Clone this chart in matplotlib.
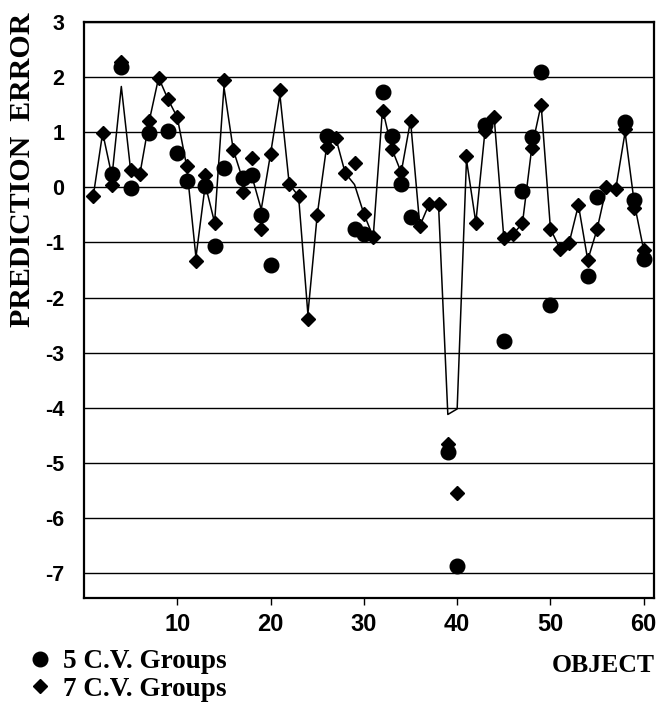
import numpy as np
import matplotlib
matplotlib.use("Agg")
import matplotlib.pyplot as plt
from matplotlib.lines import Line2D

plt.rcParams["axes.unicode_minus"] = False

# prediction error per object
objects = np.arange(1, 61)

# leave-one-out errors (plain line)
err_loo = [-0.15, 0.99, 0.20, 1.83, 0.31, 0.25, 1.21, 1.99, 1.60, 1.27,
           0.39, -1.27, 0.05, -0.64, 1.82, 0.68, 0.15, 0.20, -0.40, 0.61,
           1.68, 0.06, -0.16, -2.30, -0.50, 0.73, 0.89, 0.26, 0.05, -0.48,
           -0.90, 1.42, 0.70, 0.27, 1.21, -0.70, -0.30, -0.31, -4.12, -4.02,
           0.50, -0.64, 1.05, 1.20, -0.91, -0.85, -0.65, 0.72, 1.50, -0.75,
           -1.11, -1.01, -0.32, -1.32, -0.76, 0.00, -0.03, 1.00, -0.30, -1.14]

# 5 cross-validation groups (circles), nan where not reported
nan = np.nan
err_cv5 = [nan, nan, 0.25, 2.19, -0.01, nan, 0.99, nan, 1.02, 0.63,
           0.11, nan, 0.02, -1.06, 0.35, nan, 0.17, 0.22, -0.50, -1.40,
           nan, nan, nan, nan, nan, 0.94, nan, nan, -0.76, -0.84,
           nan, 1.73, 0.94, 0.06, -0.53, nan, nan, nan, -4.81, -6.87,
           nan, nan, 1.13, nan, -2.79, nan, -0.06, 0.91, 2.10, -2.13,
           nan, nan, nan, -1.60, -0.18, nan, nan, 1.18, -0.23, -1.30]

# 7 cross-validation groups (diamonds)
err_cv7 = [-0.15, 0.99, 0.05, 2.28, 0.31, 0.25, 1.21, 1.99, 1.60, 1.27,
           0.39, -1.33, 0.22, -0.64, 1.95, 0.68, -0.08, 0.53, -0.75, 0.61,
           1.77, 0.06, -0.16, -2.39, -0.50, 0.73, 0.89, 0.26, 0.45, -0.48,
           -0.90, 1.38, 0.70, 0.27, 1.21, -0.70, -0.30, -0.31, -4.66, -5.54,
           0.56, -0.64, 1.03, 1.27, -0.91, -0.85, -0.65, 0.72, 1.50, -0.75,
           -1.11, -1.01, -0.32, -1.32, -0.76, 0.00, -0.03, 1.06, -0.38, -1.14]

x_ticks = [10, 20, 30, 40, 50, 60]
y_ticks = list(range(-7, 4))

W, H = 659, 705
fig = plt.figure(figsize=(W / 100, H / 100), dpi=100)
ax = fig.add_axes([84 / W, 1 - 598 / H, 570 / W, 576 / H])

ax.plot(objects, err_loo, color="black", lw=1.1, zorder=3)
ax.plot(objects, err_cv7, ls="none", marker="D", ms=7.3, color="black", zorder=4)
ax.plot(objects, err_cv5, ls="none", marker="o", ms=10.5, color="black", zorder=5)

ax.set_xlim(0, 61.1)
ax.set_ylim(-7.45, 3)
ax.set_xticks(x_ticks)
ax.set_yticks(y_ticks)
ax.grid(axis="y", color="black", lw=1.0)
ax.set_axisbelow(True)
for s in ax.spines.values():
    s.set_linewidth(1.6)

ax.tick_params(axis="x", direction="out", length=5, width=1, pad=6, labelsize=17)
ax.tick_params(axis="y", length=0, pad=14, labelsize=15.5)
for lab in ax.get_xticklabels() + ax.get_yticklabels():
    lab.set_fontfamily("Liberation Sans")
    lab.set_fontweight("bold")

serif = dict(family="Liberation Serif", weight="bold")
fig.text(23 / W, 1 - 170 / H, "PREDICTION  ERROR", rotation=90,
         ha="center", va="center", fontsize=21.5, **serif)
fig.text(655 / W, 1 - 665 / H, "OBJECT", ha="right", va="center",
         fontsize=18.5, **serif)

handles = [Line2D([], [], ls="none", marker="o", ms=10.5, color="black"),
           Line2D([], [], ls="none", marker="D", ms=7.3, color="black")]
fig.legend(handles, ["5 C.V. Groups", "7 C.V. Groups"],
           loc="upper left", bbox_to_anchor=(29 / W, 1 - 649 / H),
           frameon=False, handlelength=0.8, handletextpad=0.45,
           borderpad=0, borderaxespad=0, labelspacing=0.1,
           prop=dict(family="Liberation Serif", weight="bold", size=19.5))

fig.savefig("out.png", dpi=100)
